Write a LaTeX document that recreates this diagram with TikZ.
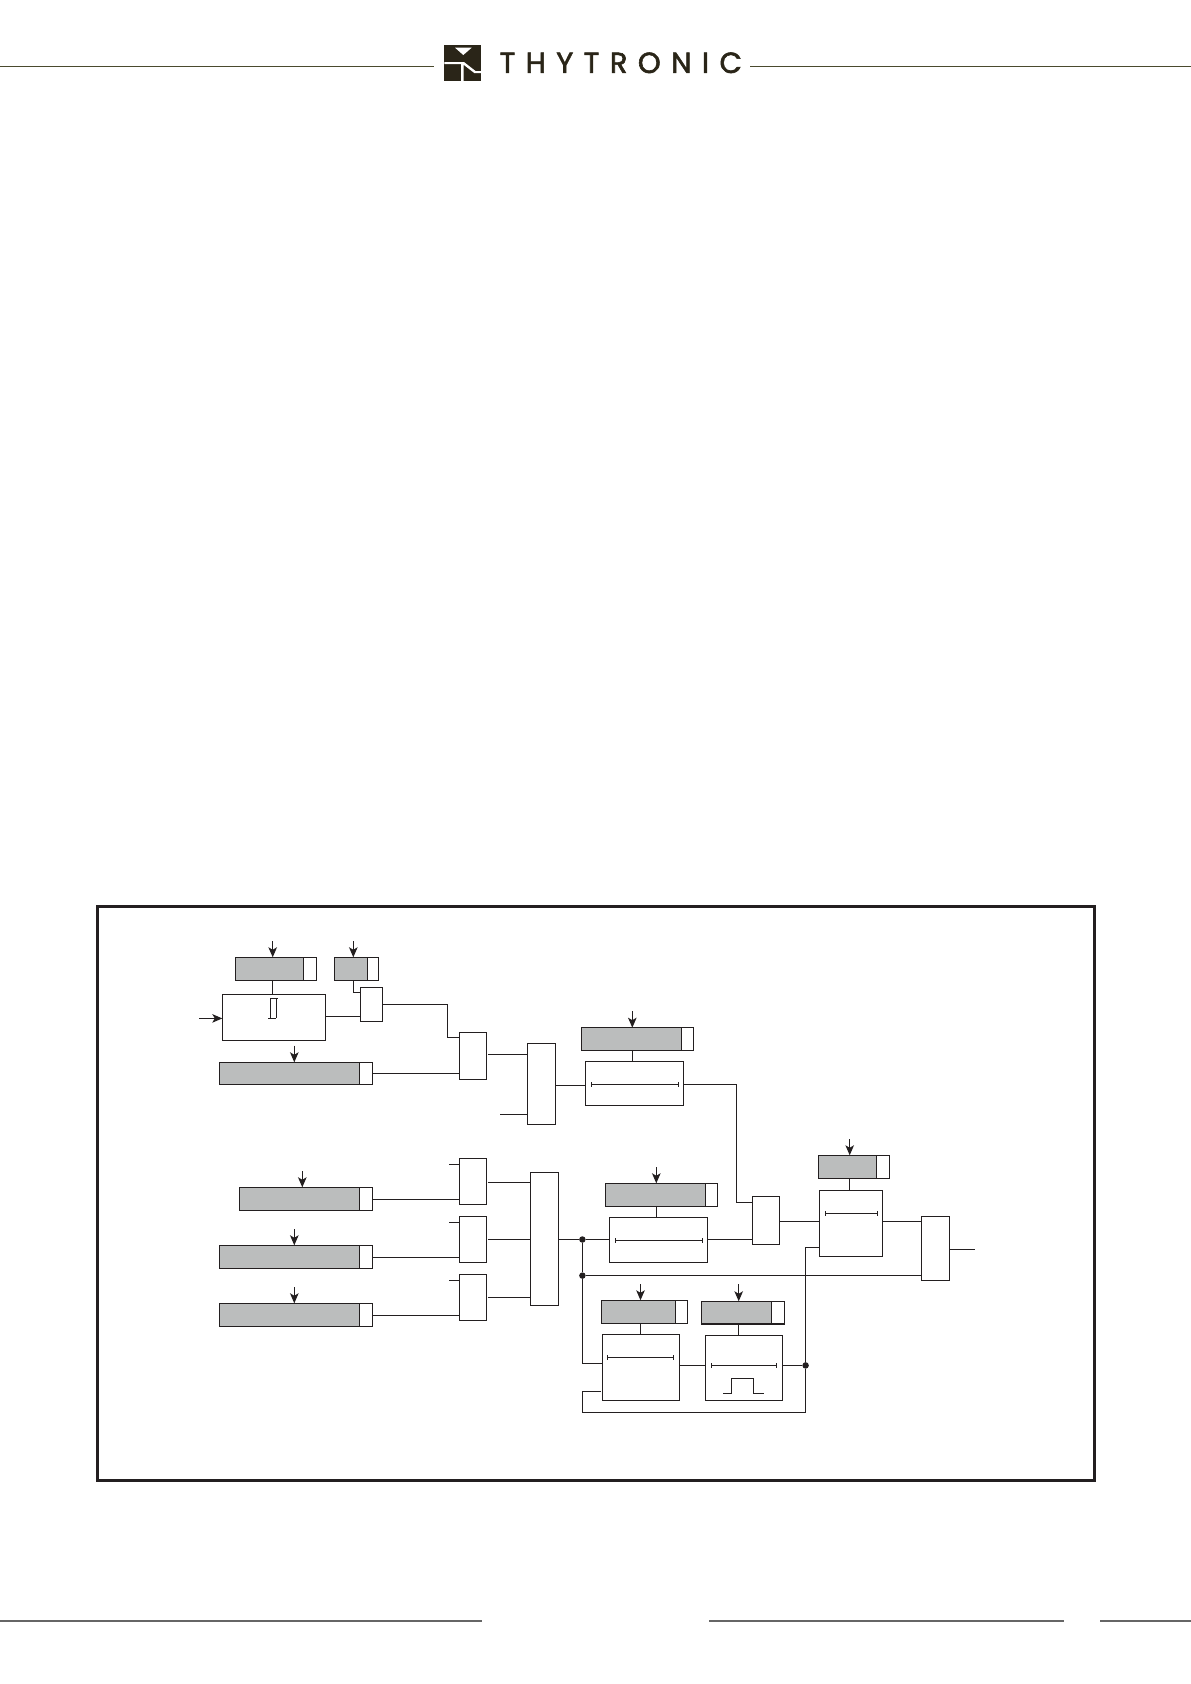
\documentclass[tikz,border=0pt]{standalone}
\usepackage{fontspec}
\usetikzlibrary{arrows.meta,positioning}
\newfontfamily\logofont[LetterSpace=36,FakeBold=2]{Poppins}
\definecolor{inkblack}{HTML}{231F20}
\definecolor{setgrey}{HTML}{BBBDBD}
\definecolor{logoink}{HTML}{2A2518}
\definecolor{ruleolive}{HTML}{4A4A2E}
\definecolor{footgrey}{HTML}{666666}
\tikzset{
  blk/.style 2 args={draw=inkblack,fill=white,line width=1.15pt,inner sep=0pt,outer sep=0pt,anchor=north west,minimum width=#1pt,minimum height=#2pt},
  setbox/.style 2 args={blk={#1}{#2},fill=setgrey},
  wire/.style={draw=inkblack,line width=1.15pt},
  arr/.style={wire,-{Stealth[length=10pt,width=8.5pt,inset=2.5pt]}},
  span/.style={wire,line width=1pt,{Bar[width=4.5pt,line width=0.9pt]}-{Bar[width=4.5pt,line width=0.9pt]}},
  dot/.style={circle,fill=inkblack,inner sep=0pt,outer sep=0pt,minimum size=6.5pt},
}
\begin{document}
\begin{tikzpicture}[x=1pt,y=-1pt]
	\useasboundingbox (0,0) rectangle (1191,1684);
	% header and footer
	\draw[ruleolive,line width=1.1pt] (0,66.3) -- (434,66.3) (750,66.3) -- (1191,66.3);
	\fill[logoink] (444.3,44.7) rectangle (481,81);
	\fill[white] (455,47.7) -- (471.7,47.7) -- (463.3,55) -- cycle;
	\fill[white] (444.3,62) -- (464,62) -- (475.5,71) -- (481,71) -- (481,73.2) -- (474.5,73.2) -- (463.7,64.8) -- (463.7,81) -- (461,81) -- (461,64.2) -- (444.3,64.2) -- cycle;
	\node[anchor=west,inner sep=0pt,text=logoink,font=\logofont\fontsize{29}{29}\selectfont] (brand) at (499.5,62.8) {THYTRONIC};
	\draw[footgrey,line width=1.5pt] (0,1621) -- (482,1621) (709,1621) -- (1064,1621) (1100,1621) -- (1191,1621);
	% frame
	\draw[inkblack,line width=2.5pt] (97.5,906.5) rectangle (1094.5,1480.5);
	% setting boxes with their grey field, white cell and input arrow
	\foreach \nm/\x/\y/\w/\h/\cw/\ax/\ay in {
		seta/235.3/957.3/68/23/13/272.7/941,
		setb/334.4/957.3/33.3/23/10.6/353.3/941,
		setc/219.3/1062.3/140/22/13.4/294.3/1045.7,
		setd/581.3/1027.7/100.4/22.6/11.6/632.3/1011,
		sete/818.3/1155.3/58/23/13.2/849.7/1139,
		setf/605.5/1183.3/100.2/23/11.6/656.3/1167,
		setg/601.3/1300.3/74/23/12/640.5/1284,
		seth/701.7/1301.3/69.6/22.7/13.2/738.7/1284,
		seti/239.3/1187.3/120/23/13.4/302.3/1171,
		setj/219.3/1245.3/140/23/13.4/294.3/1229,
		setk/219.3/1303.3/140/23/13.4/294.3/1287} {
		\node[setbox={\w}{\h}] (\nm) at (\x,\y) {};
		\node[blk={\cw}{\h},right=0pt of \nm] (\nm-c) {};
		\coordinate (\nm-in) at (\ax,\ay);
		\draw[arr] (\nm-in) -- (\nm-in |- \nm.north);
	}
	% gates and timers
	\foreach \nm/\x/\y/\w/\h in {
		hyst/222.3/994.3/103/46,
		gatea/360.3/987.3/22/34,
		gateb/459.3/1032.3/27/47,
		gatec/527.3/1043.3/28/81,
		gated/459.3/1158.3/27/46,
		gatee/459.3/1216.3/27/46,
		gatef/459.3/1274.3/27/46,
		gateg/530.3/1172.3/28/133,
		gateh/752.3/1196.3/27/48,
		gatek/921.3/1216.3/28/64,
		timerd/585.3/1061.3/98.4/44,
		timere/819.3/1190.3/63/66,
		timerf/609.3/1217.3/98/45,
		timerg/602.3/1334.3/77/66,
		timerh/705.3/1335.3/77/65} {
		\node[blk={\w}{\h}] (\nm) at (\x,\y) {};
	}
	% symbols inside the blocks
	\foreach \xa/\xb/\yy in {591.3/678.7/1084.7,825.3/877.7/1213.4,615.3/702.7/1240.4,607.3/673.7/1357.6,711.3/776.7/1365.6} {
		\draw[span] (\xa,\yy) -- (\xb,\yy);
	}
	\draw[wire,line width=0.9pt] (277.7,998.7) -- (270.3,998.7) (276.4,998.7) -- (276.4,1018.4) (268.3,1018.4) -- (276.4,1018.4) (270.3,998.7) -- (270.3,1018.4);
	\draw[wire,line width=1pt] (723,1393.4) -- (731.6,1393.4) -- (731.6,1378.4) -- (753.4,1378.4) -- (753.4,1393.4) -- (763.7,1393.4);
	% junctions
	\node[dot] (nodea) at (582.4,1239.5) {};
	\node[dot] (nodeb) at (582.4,1275.6) {};
	\node[dot] (nodec) at (805.6,1365.4) {};
	% free ends
	\coordinate (inhyst) at (199,1018.4);
	\coordinate (inc) at (500,1114.4);
	\coordinate (ind) at (449,1164.4);
	\coordinate (ine) at (449,1222.4);
	\coordinate (inf) at (449,1280.4);
	\coordinate (outk) at (975,1249.4);
	% upper branch
	\draw[arr] (inhyst) -- (hyst.west |- inhyst);
	\draw[wire] (seta-in |- seta.south) -- (seta-in |- hyst.north);
	\draw[wire] (setb-in |- setb.south) |- (gatea.west |- 0,992.4);
	\draw[wire] (hyst.east |- 0,1016.4) -- (gatea.west |- 0,1016.4);
	\draw[wire] (gatea.east |- 0,1004.4) -- (447.4,1004.4) -- (447.4,1037.4) -- (gateb.west |- 0,1037.4);
	\draw[wire] (setc-c.east) -- (gateb.west |- setc-c.east);
	\draw[wire,shorten <=1.5pt] (gateb.east |- 0,1054.4) -- (gatec.west |- 0,1054.4);
	\draw[wire] (inc) -- (gatec.west |- inc);
	\draw[wire] (gatec.east |- 0,1085.4) -- (timerd.west |- 0,1085.4);
	\draw[wire] (setd-in |- setd.south) -- (setd-in |- timerd.north);
	\draw[wire] (timerd.east |- 0,1084.4) -- (736.4,1084.4) -- (736.4,1202.4) -- (gateh.west |- 0,1202.4);
	% lower branch
	\foreach \st/\gt/\fr/\yy in {seti/gated/ind/1199.4,setj/gatee/ine/1257.4,setk/gatef/inf/1315.4} {
		\draw[wire] (\st-c.east |- 0,\yy) -- (\gt.west |- 0,\yy);
		\draw[wire] (\fr) -- (\gt.west |- \fr);
	}
	\draw[wire,shorten <=1.5pt] (gated.east |- 0,1182.4) -- (gateg.west |- 0,1182.4);
	\draw[wire,shorten <=1.5pt] (gatee.east |- nodea) -- (gateg.west |- nodea);
	\draw[wire,shorten <=1.5pt] (gatef.east |- 0,1297.4) -- (gateg.west |- 0,1297.4);
	\draw[wire] (gateg.east |- nodea) -- (nodea);
	\draw[wire] (nodea) -- (timerf.west |- nodea);
	\draw[wire] (timerf.east |- nodea) -- (gateh.west |- nodea);
	\draw[wire] (setf-in |- setf.south) -- (setf-in |- timerf.north);
	\draw[wire] (nodea) -- (nodeb);
	\draw[wire] (nodeb) |- (timerg.west |- 0,1363.4);
	\draw[wire] (nodeb) -- (gatek.west |- nodeb);
	\draw[wire] (setg-in |- setg.south) -- (setg-in |- timerg.north);
	\draw[wire] (seth-in |- seth.south) -- (seth-in |- timerh.north);
	\draw[wire] (timerg.east |- nodec) -- (timerh.west |- nodec);
	\draw[wire] (timerh.east |- nodec) -- (nodec);
	\draw[wire] (nodec) |- (timere.west |- 0,1247.4);
	\draw[wire,shorten >=1.5pt] (nodec) -- (805.6,1412.4) -- (582.4,1412.4) -- (582.4,1391.4) -- (timerg.west |- 0,1391.4);
	\draw[wire] (gateh.east |- 0,1221.4) -- (timere.west |- 0,1221.4);
	\draw[wire] (sete-in |- sete.south) -- (sete-in |- timere.north);
	\draw[wire] (timere.east |- 0,1221.4) -- (gatek.west |- 0,1221.4);
	\draw[wire] (gatek.east |- outk) -- (outk);
\end{tikzpicture}
\end{document}
